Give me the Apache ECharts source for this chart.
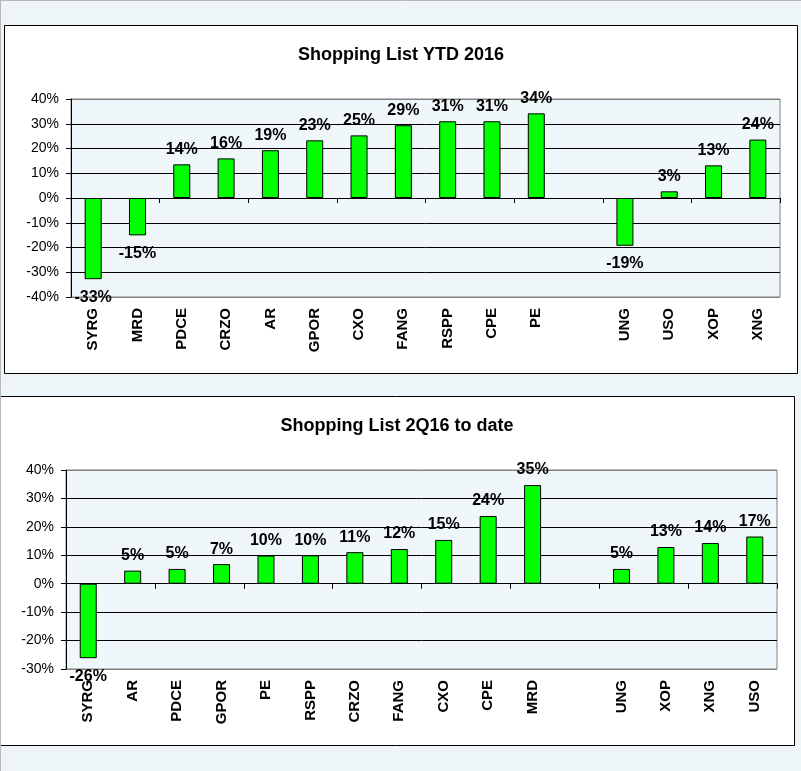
<!DOCTYPE html>
<html>
<head>
<meta charset="utf-8">
<script src="https://cdn.jsdelivr.net/npm/echarts@6/dist/echarts.min.js"></script>
<style>
html,body{margin:0;padding:0;background:#eef5f8;}
#c{width:801px;height:771px;}
</style>
</head>
<body>
<div id="c"></div>
<script>
// Chart 1: Shopping List YTD 2016 (percent)
const title1 = 'Shopping List YTD 2016';
const cats1 = ['SYRG','MRD','PDCE','CRZO','AR','GPOR','CXO','FANG','RSPP','CPE','PE','','UNG','USO','XOP','XNG'];
const vals1 = [-32.8,-15.1,13.6,16.0,19.3,23.3,25.3,29.4,31.0,31.0,34.2,null,-19.3,2.7,13.2,23.6];
const yTicks1 = {min:-40, max:40, interval:10};

// Chart 2: Shopping List 2Q16 to date (percent)
const title2 = 'Shopping List 2Q16 to date';
const cats2 = ['SYRG','AR','PDCE','GPOR','PE','RSPP','CRZO','FANG','CXO','CPE','MRD','','UNG','XOP','XNG','USO'];
const vals2 = [-26.2,4.6,5.2,6.9,9.9,10.0,11.1,12.2,15.4,23.8,34.7,null,5.2,12.9,14.3,16.6];
const yTicks2 = {min:-30, max:40, interval:10};

const FONT = 'Liberation Sans, Arial, Helvetica, sans-serif';
const GREEN = '#00ff00';

function splitColors(t){
  const n = Math.round((t.max - t.min)/t.interval) + 1;
  const arr = [];
  for (let i=0;i<n;i++) arr.push((i===0||i===n-1)?'#808080':'#000000');
  return arr;
}

function yAxis(gi, t){
  return {
    type:'value', gridIndex:gi, min:t.min, max:t.max, interval:t.interval,
    axisLine:{show:true, lineStyle:{color:'#000', width:1}},
    axisTick:{show:true, length:5, lineStyle:{color:'#000'}},
    axisLabel:{formatter:'{value}%', color:'#000', fontFamily:FONT, fontSize:14, margin:12},
    splitLine:{show:true, lineStyle:{color:splitColors(t), width:1}}
  };
}
function xAxes(gi, cats){
  return [{
    type:'category', gridIndex:gi, data:cats, position:'bottom',
    axisLine:{show:true, onZero:true, lineStyle:{color:'#000', width:1}},
    axisTick:{show:true, length:5, lineStyle:{color:'#000'}},
    axisLabel:{show:false}
  },{
    type:'category', gridIndex:gi, data:cats, position:'bottom',
    axisLine:{show:false, onZero:false},
    axisTick:{show:false},
    axisLabel:{show:true, rotate:90, margin:11, color:'#000', fontFamily:FONT, fontSize:15, fontWeight:'bold', interval:0}
  }];
}
function barSeries(xi, yi, vals){
  return {
    type:'bar', xAxisIndex:xi, yAxisIndex:yi, barWidth:17,
    data: vals.map(v => v===null ? null : {
      value:v,
      label: v<0 ? {position:'bottom', distance:10} : {position:'top', distance:7}
    }),
    itemStyle:{color:GREEN, borderColor:'#000', borderWidth:1},
    label:{show:true, color:'#000', fontFamily:FONT, fontSize:16, fontWeight:'bold',
      formatter: p => Math.round(p.value) + '%'},
    silent:true, animation:false
  };
}

const chart = echarts.init(document.getElementById('c'), null, {renderer:'canvas'});
const xa1 = xAxes(0, cats1), xa2 = xAxes(1, cats2);
chart.setOption({
  animation:false,
  backgroundColor:'#eef5f8',
  graphic:[
    {type:'rect', z:-10, shape:{x:4.5, y:25.5, width:793, height:348}, style:{fill:'#fff', stroke:'#000', lineWidth:1}},
    {type:'rect', z:-10, shape:{x:-2, y:396.5, width:796.5, height:349}, style:{fill:'#fff', stroke:'#000', lineWidth:1}},
    {type:'line', z:-5, shape:{x1:0.5, y1:0, x2:0.5, y2:771}, style:{stroke:'#b8b8b8', lineWidth:1}},
    {type:'line', z:-5, shape:{x1:0, y1:0.5, x2:801, y2:0.5}, style:{stroke:'#b8b8b8', lineWidth:1}}
  ],
  title:[
    {text:title1, left:401, top:46, padding:0, textAlign:'center', textStyle:{fontFamily:FONT, fontSize:18, fontWeight:'bold', color:'#000'}},
    {text:title2, left:397, top:417, padding:0, textAlign:'center', textStyle:{fontFamily:FONT, fontSize:18, fontWeight:'bold', color:'#000'}}
  ],
  grid:[
    {left:71, right:21, top:99, height:198, show:true, backgroundColor:'#f0f7fa', borderColor:'#808080', borderWidth:1, containLabel:false},
    {left:66, right:24, top:470, height:199, show:true, backgroundColor:'#f0f7fa', borderColor:'#808080', borderWidth:1, containLabel:false}
  ],
  xAxis:[xa1[0], xa1[1], xa2[0], xa2[1]],
  yAxis:[yAxis(0, yTicks1), yAxis(1, yTicks2)],
  series:[barSeries(0,0,vals1), barSeries(2,1,vals2)]
});
</script>
</body>
</html>
